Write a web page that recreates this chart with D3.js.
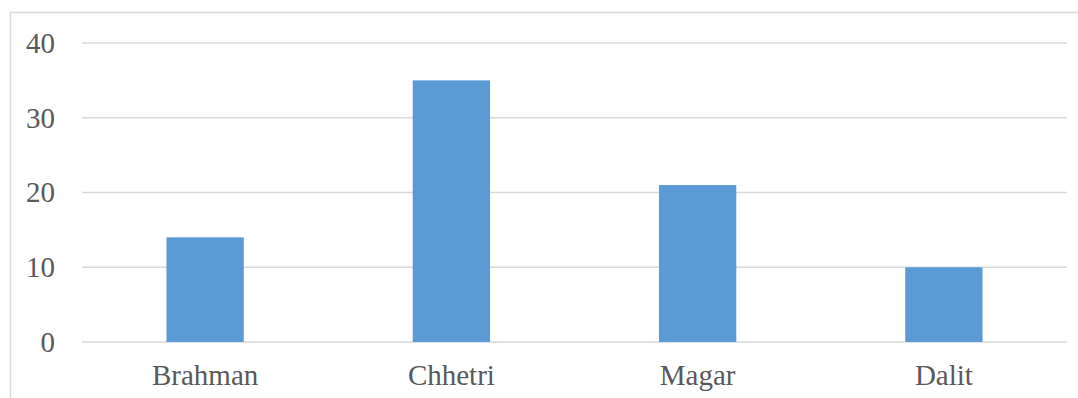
<!DOCTYPE html>
<html>
<head>
<meta charset="utf-8">
<script src="https://cdn.jsdelivr.net/npm/d3@7"></script>
<style>
  html, body { margin: 0; padding: 0; background: #fff; }
  svg { display: block; }
</style>
</head>
<body>
<svg id="chart" width="1078" height="398"></svg>
<script>
// Respondents by caste group
const categories = ["Brahman", "Chhetri", "Magar", "Dalit"];
const values = [14, 35, 21, 10];
const yTicks = [0, 10, 20, 30, 40];

const svg = d3.select("#chart");
const W = 1078, H = 398;
const margin = { left: 82, right: 11, top: 43, bottom: 56 };
const fontFamily = "'Liberation Serif', 'Times New Roman', serif";
const labelColor = "#595959";

// chart frame
svg.append("rect")
  .attr("x", 10.5).attr("y", 12.5)
  .attr("width", W + 20).attr("height", H + 20)
  .attr("fill", "#fff")
  .attr("stroke", "#d9d9d9").attr("stroke-width", 1.5);

const x = d3.scaleBand()
  .domain(categories)
  .range([margin.left, W - margin.right])
  .paddingInner(0.686)
  .paddingOuter(0.343);

const y = d3.scaleLinear()
  .domain([0, 40])
  .range([H - margin.bottom, margin.top]);

// gridlines
svg.append("g")
  .selectAll("line")
  .data(yTicks)
  .join("line")
  .attr("x1", margin.left).attr("x2", W - margin.right)
  .attr("y1", d => y(d)).attr("y2", d => y(d))
  .attr("stroke", "#d9d9d9").attr("stroke-width", 1.5);

// bars
svg.append("g")
  .selectAll("rect")
  .data(categories)
  .join("rect")
  .attr("x", d => x(d))
  .attr("width", x.bandwidth())
  .attr("y", (d, i) => y(values[i]))
  .attr("height", (d, i) => y(0) - y(values[i]))
  .attr("fill", "#5b9bd5");

// y axis labels
const yAxis = d3.axisLeft(y).tickValues(yTicks).tickSize(0).tickPadding(27);
const gy = svg.append("g")
  .attr("transform", `translate(${margin.left},0)`)
  .call(yAxis);
gy.select(".domain").remove();
gy.selectAll("text")
  .attr("font-family", fontFamily)
  .attr("font-size", 29)
  .attr("fill", labelColor);

// x axis labels
const xAxis = d3.axisBottom(x).tickSize(0).tickPadding(22);
const gx = svg.append("g")
  .attr("transform", `translate(0,${y(0)})`)
  .call(xAxis);
gx.select(".domain").remove();
gx.selectAll("text")
  .attr("font-family", fontFamily)
  .attr("font-size", 29)
  .attr("fill", labelColor);
</script>
</body>
</html>
